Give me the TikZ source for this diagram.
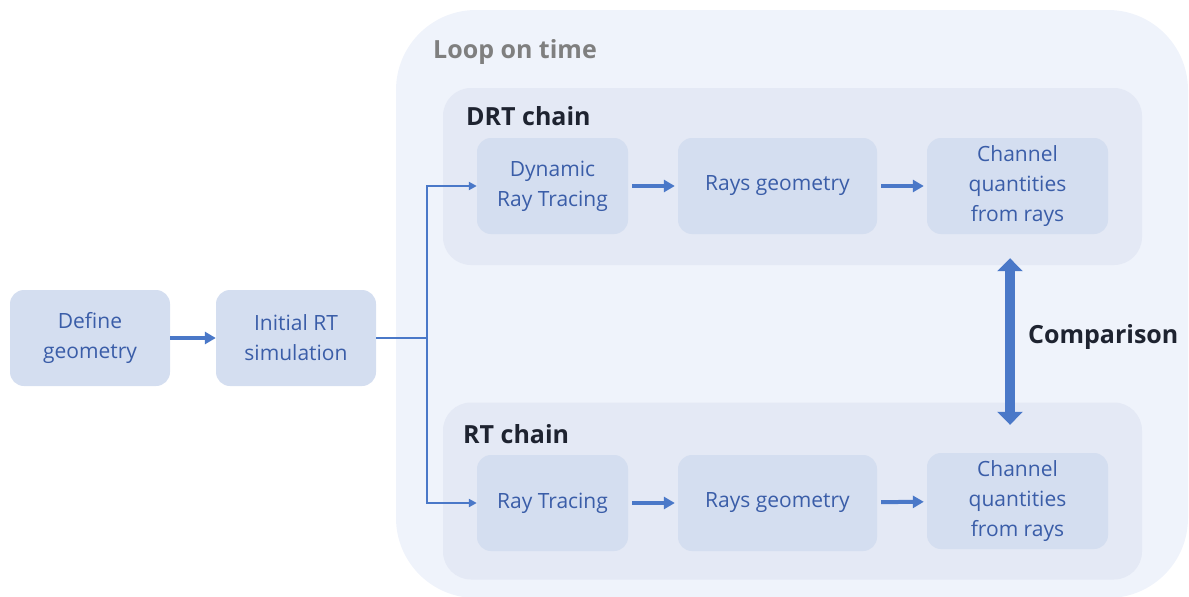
\documentclass[tikz,border=0pt]{standalone}
\usepackage{fontspec}
\setmainfont{Open Sans}
\usetikzlibrary{arrows.meta}

\definecolor{loopFill}{HTML}{EFF3FB}
\definecolor{chainFill}{HTML}{E4E9F5}
\definecolor{stepFill}{HTML}{D4DEF0}
\definecolor{stepText}{HTML}{3A5DA8}
\definecolor{arrowBlue}{HTML}{4A78C8}
\definecolor{headText}{HTML}{1E2330}
\definecolor{loopText}{HTML}{7F7F7F}

\begin{document}
\begin{tikzpicture}[x=1pt,y=-1pt]
\tikzstyle{every node}=[font=\fontsize{21}{30}\selectfont, text=stepText]
\tikzstyle{stepbox}=[rectangle, rounded corners=14pt, fill=stepFill, minimum height=96pt, align=center, inner sep=0pt]
\tikzstyle{chainbox}=[rectangle, rounded corners=28pt, fill=chainFill, minimum width=699pt, minimum height=177pt]
\tikzstyle{heading}=[anchor=west, inner sep=0pt, font=\fontsize{25}{28}\selectfont\bfseries, text=headText]
\tikzstyle{flow}=[draw=arrowBlue, line width=4pt, -{Triangle[length=11pt,width=12pt]}]
\tikzstyle{feed}=[draw=arrowBlue, line width=2pt, -{Triangle[length=8pt,width=8pt]}]
\tikzstyle{compare}=[draw=arrowBlue, line width=10pt, {Triangle[length=13pt,width=25pt]}-{Triangle[length=13pt,width=25pt]}]

\useasboundingbox (0,0) rectangle (1189,597);
\clip (0,0) rectangle (1189,597);

% time loop and the two chains
\node[rectangle, rounded corners=80pt, fill=loopFill, minimum width=792pt, minimum height=588pt] (loop) at (792,304) {};
\node[heading, text=loopText] (looplabel) at (433,52) {Loop on time};

\node[chainbox] (drtchain) at (792.5,176.5) {};
\node[heading] (drtlabel) at (466,116) {DRT chain};
\node[chainbox] (rtchain) at (792.5,491) {};
\node[heading] (rtlabel) at (463,434) {RT chain};

% steps
\node[stepbox, minimum width=160pt] (def) at (90,338) {Define\\geometry};
\node[stepbox, minimum width=160pt] (init) at (296,338) {Initial RT\\simulation};

\node[stepbox, minimum width=151pt] (drt1) at (552.5,186) {Dynamic\\Ray Tracing};
\node[stepbox, minimum width=199pt] (drt2) at (777.5,186) {Rays geometry};
\node[stepbox, minimum width=181pt] (drt3) at (1017.5,186) {Channel\\quantities\\from rays};

\node[stepbox, minimum width=151pt] (rt1) at (552.5,503) {Ray Tracing};
\node[stepbox, minimum width=199pt] (rt2) at (777.5,503) {Rays geometry};
\node[stepbox, minimum width=181pt] (rt3) at (1017.5,501) {Channel\\quantities\\from rays};

% connectors
\coordinate (split) at (427,338);
\draw[flow] (def) -- (init);
\draw[feed] (init.east) -- (split) |- (drt1.west);
\draw[feed] (split) |- (rt1.west);

\draw[flow, shorten <=4pt, shorten >=3pt] (drt1) -- (drt2);
\draw[flow, shorten <=4pt, shorten >=3pt] (drt2) -- (drt3);
\draw[flow, shorten <=4pt, shorten >=3pt] (rt1) -- (rt2);
\draw[flow, shorten <=4pt, shorten >=3pt] (rt2) -- (rt3);

\draw[compare] ([xshift=-7.5pt,yshift=-24pt]drt3.south) -- ([xshift=-7.5pt,yshift=28pt]rt3.north);
\node[heading] (cmplabel) at (1028,337) {Comparison};
\end{tikzpicture}
\end{document}
